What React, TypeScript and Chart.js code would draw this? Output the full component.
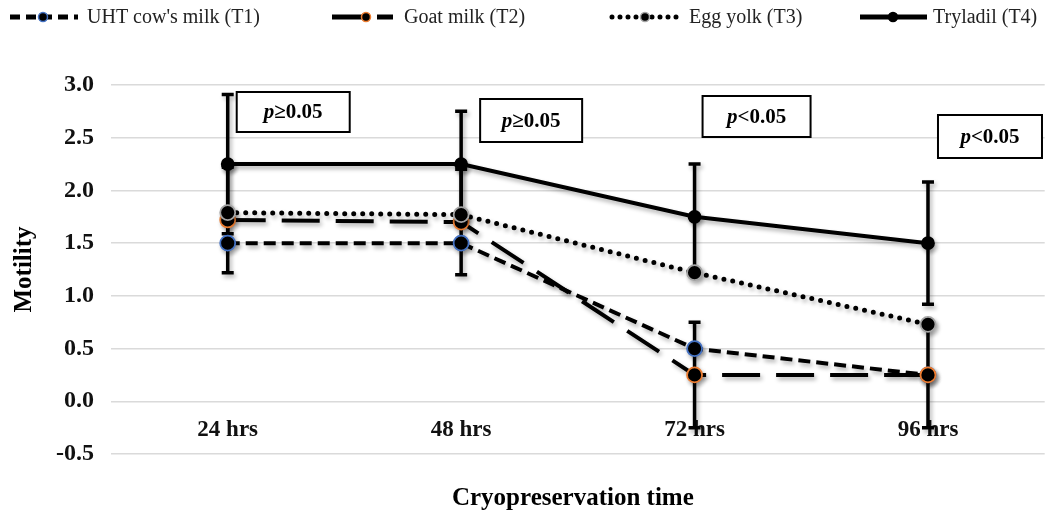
import React, { useEffect, useRef } from "react";
import { Chart, registerables } from "chart.js";

Chart.register(...registerables);

// ---------- data ----------
const categories = ["24 hrs", "48 hrs", "72 hrs", "96 hrs"];
const uhtCowMilk = [1.5, 1.5, 0.5, 0.25];
const goatMilk = [1.72, 1.7, 0.25, 0.25];
const eggYolk = [1.79, 1.77, 1.22, 0.73];
const tryladil = [2.25, 2.25, 1.75, 1.5];
const goatMilkError = [0.5, 0.5, 0.5, 0.5];
const tryladilError = [0.66, 0.5, 0.5, 0.58];
const yTicks = [-0.5, 0, 0.5, 1.0, 1.5, 2.0, 2.5, 3.0];
const pLabels = ["\u22650.05", "\u22650.05", "<0.05", "<0.05"];
const seriesNames = ["UHT cow's milk (T1)", "Goat milk (T2)", "Egg yolk (T3)", "Tryladil (T4)"];

// ---------- layout / style ----------
const FONT = "'Liberation Serif', 'Times New Roman', serif";
const BLUE = "#4472C4";
const ORANGE = "#ED7D31";
const GRAY = "#A5A5A5";

// p-value box placement: offset (px) from category centre, top offset (px) from chart-area top
const pBoxLayout = [
  { dx: 9, top: 7, w: 113, h: 40 },
  { dx: 19, top: 14, w: 102, h: 43 },
  { dx: 8, top: 11, w: 108, h: 41 },
  { dx: 10, top: 30, w: 104, h: 43 },
];

// legend layout: sample start/end, marker x, text x
const legendLayout = [
  { x0: 10, x1: 78, mx: 43, tx: 87 },
  { x0: 332, x1: 393, mx: 366, tx: 404 },
  { x0: 612, x1: 683, mx: 645, tx: 689 },
  { x0: 860, x1: 927, mx: 893, tx: 933 },
];

const seriesStyles = [
  { dash: [12, 6], cap: "butt", pointBorder: BLUE, radius: 7.5, width: 4, legendDash: [10, 6] },
  { dash: [38, 16], cap: "butt", pointBorder: ORANGE, radius: 7.5, width: 4, legendDash: [33, 12] },
  { dash: [0, 9], cap: "round", pointBorder: GRAY, radius: 7.5, width: 5, legendDash: [0, 8] },
  { dash: [], cap: "butt", pointBorder: "#000", radius: 6, width: 4, legendDash: [] },
];

const errorSeries = [
  { datasetIndex: 1, errors: goatMilkError },
  { datasetIndex: 3, errors: tryladilError },
];

const shadowPlugin = {
  id: "shadow",
  beforeDatasetsDraw(chart: any) {
    // error bars under the series
    const ctx = chart.ctx;
    const y = chart.scales.y;
    ctx.save();
    ctx.shadowColor = "rgba(0,0,0,0.3)";
    ctx.shadowBlur = 4;
    ctx.shadowOffsetX = 2;
    ctx.shadowOffsetY = 3;
    ctx.strokeStyle = "#000";
    ctx.lineWidth = 3.5;
    errorSeries.forEach((es) => {
      const meta = chart.getDatasetMeta(es.datasetIndex);
      const vals = chart.data.datasets[es.datasetIndex].data;
      meta.data.forEach((pt: any, i: number) => {
        const v = vals[i];
        const e = es.errors[i];
        const yt = y.getPixelForValue(v + e);
        const yb = y.getPixelForValue(v - e);
        ctx.beginPath();
        ctx.moveTo(pt.x, yt);
        ctx.lineTo(pt.x, yb);
        ctx.moveTo(pt.x - 6, yt);
        ctx.lineTo(pt.x + 6, yt);
        ctx.moveTo(pt.x - 6, yb);
        ctx.lineTo(pt.x + 6, yb);
        ctx.stroke();
      });
    });
    ctx.restore();
  },
  beforeDatasetDraw(chart: any) {
    const ctx = chart.ctx;
    ctx.save();
    ctx.shadowColor = "rgba(0,0,0,0.3)";
    ctx.shadowBlur = 4;
    ctx.shadowOffsetX = 2;
    ctx.shadowOffsetY = 3;
  },
  afterDatasetDraw(chart: any) {
    chart.ctx.restore();
  },
  afterDraw(chart: any) {
    const ctx = chart.ctx;
    const area = chart.chartArea;
    const xs = chart.scales.x;

    // p-value boxes
    pBoxLayout.forEach((b, i) => {
      const cx = xs.getPixelForValue(i);
      const left = cx + b.dx;
      const top = area.top + b.top;
      ctx.save();
      ctx.fillStyle = "#fff";
      ctx.fillRect(left, top, b.w, b.h);
      ctx.strokeStyle = "#000";
      ctx.lineWidth = 2;
      ctx.strokeRect(left, top, b.w, b.h);
      ctx.textBaseline = "middle";
      ctx.fillStyle = "#000";
      const pFont = `italic bold 21px ${FONT}`;
      const rFont = `bold 21px ${FONT}`;
      ctx.font = pFont;
      const wp = ctx.measureText("p").width;
      ctx.font = rFont;
      const wr = ctx.measureText(pLabels[i]).width;
      const sx = left + b.w / 2 - (wp + wr) / 2;
      const sy = top + b.h / 2 + 1;
      ctx.font = pFont;
      ctx.fillText("p", sx, sy);
      ctx.font = rFont;
      ctx.fillText(pLabels[i], sx + wp, sy);
      ctx.restore();
    });

    // x-axis title
    ctx.save();
    ctx.font = `bold 25px ${FONT}`;
    ctx.fillStyle = "#000";
    ctx.textAlign = "center";
    ctx.textBaseline = "middle";
    ctx.fillText("Cryopreservation time", (area.left + area.right) / 2 - 5, 499);
    ctx.restore();

    // legend
    legendLayout.forEach((l, i) => {
      const st = seriesStyles[i];
      const ly = 17;
      ctx.save();
      ctx.strokeStyle = "#000";
      ctx.lineWidth = 5;
      ctx.lineCap = st.cap as CanvasLineCap;
      ctx.setLineDash(st.legendDash);
      ctx.beginPath();
      ctx.moveTo(l.x0, ly);
      ctx.lineTo(l.x1, ly);
      ctx.stroke();
      ctx.setLineDash([]);
      ctx.beginPath();
      ctx.arc(l.mx, ly, 4.5, 0, Math.PI * 2);
      ctx.fillStyle = "#000";
      ctx.fill();
      ctx.lineWidth = 1.5;
      ctx.strokeStyle = st.pointBorder;
      ctx.stroke();
      ctx.font = `20px ${FONT}`;
      ctx.fillStyle = "#222";
      ctx.textBaseline = "middle";
      ctx.fillText(seriesNames[i], l.tx, ly + 1);
      ctx.restore();
    });
  },
};

export default function App() {
  const canvasRef = useRef<HTMLCanvasElement | null>(null);

  useEffect(() => {
    document.body.style.margin = "0";
    const seriesData = [uhtCowMilk, goatMilk, eggYolk, tryladil];
    const datasets = seriesData.map((d, i) => {
      const st = seriesStyles[i];
      return {
        label: seriesNames[i],
        data: d,
        borderColor: "#000",
        borderWidth: st.width,
        borderDash: st.dash,
        borderCapStyle: st.cap,
        pointRadius: st.radius,
        pointBackgroundColor: "#000",
        pointBorderColor: st.pointBorder,
        pointBorderWidth: 1.8,
        tension: 0,
        fill: false,
        order: 4 - i,
      };
    });

    const chart = new Chart(canvasRef.current as HTMLCanvasElement, {
      type: "line",
      data: { labels: categories, datasets: datasets as any },
      options: {
        animation: false,
        responsive: false,
        layout: { padding: { left: 0, right: 6, top: 85, bottom: 60 } },
        plugins: { legend: { display: false }, tooltip: { enabled: false } },
        scales: {
          x: {
            type: "category",
            position: { y: 0 } as any,
            offset: true,
            grid: { display: false, drawTicks: false },
            border: { display: false },
            ticks: {
              font: { family: FONT, size: 23, weight: "bold" },
              color: "#111",
              padding: 15,
            },
          },
          y: {
            min: -0.5,
            max: 3.0,
            afterBuildTicks: (s: any) => {
              s.ticks = yTicks.map((v) => ({ value: v }));
            },
            afterFit: (s: any) => {
              s.width = 111;
            },
            grid: { color: "#dadada", lineWidth: 1.5, drawTicks: false },
            border: { display: false },
            ticks: {
              font: { family: FONT, size: 24, weight: "bold" },
              color: "#111",
              padding: 17,
              callback: (v: any) => Number(v).toFixed(1),
            },
            title: {
              display: true,
              text: "Motility",
              color: "#000",
              font: { family: FONT, size: 25, weight: "bold" },
              padding: { top: 10, bottom: 0 },
            },
          },
        },
      },
      plugins: [shadowPlugin],
    });
    return () => chart.destroy();
  }, []);

  return (
    <div style={{ width: 1054, height: 514 }}>
      <canvas ref={canvasRef} width={1054} height={514} />
    </div>
  );
}
